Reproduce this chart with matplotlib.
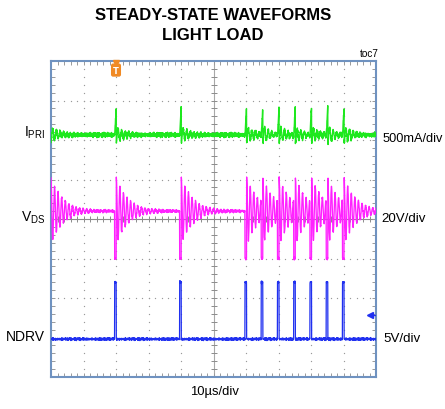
import numpy as np
import matplotlib
import matplotlib.pyplot as plt

# Use non-GUI backend for matplotlib
matplotlib.use("Agg")

# scope settings
us_per_div = 10.0
ipri_per_div = 500.0   # mA/div
vds_per_div = 20.0     # V/div
ndrv_per_div = 5.0     # V/div

# channel zero positions (divisions from centre)
ipri_pos = 2.13
vds_pos = -1.0
ndrv_pos = -3.04

# switching events (us)
pulse_start = [-0.5, 19.6, 39.6, 59.7, 64.7, 69.7, 74.7, 79.7, 84.7, 89.7]
pulse_width = 0.5

# levels
ipri_peak = 380.0      # mA
ipri_dip = 100.0       # mA
ipri_tau = 2.5         # us
vds_in = 24.0          # V
vds_ring = 17.0        # V
ring_period = 1.1      # us
ring_tau = 3.6         # us
ndrv_high = 7.2        # V
trigger_us = 20.0

# trace jitter, typed in (two coprime patterns)
jit_a = [0.4, -0.7, 0.2, 0.9, -0.3, -0.8, 0.6, 0.1, -0.5, 0.8, -0.2, -0.9, 0.5, 0.3, -0.6, 0.7, -0.1]
jit_b = [-0.3, 0.5, 0.1, -0.6, 0.8, -0.2, 0.3, -0.9, 0.6, 0.0, -0.4, 0.7, -0.7, 0.2, 0.9, -0.5,
         0.4, -0.1, -0.8, 0.6, 0.1, -0.3, 0.5]
ipri_noise = 40.0
vds_noise = 0.9
ndrv_noise = 0.22

W, H = 445, 410
fig = plt.figure(figsize=(W / 100, H / 100), dpi=100)
ax = fig.add_axes([51 / W, 1 - 378 / H, 325 / W, 316 / H])


def fx(x):
    return x / W


def fy(y):
    return 1 - y / H


# build traces
t = np.arange(0, 100.0001, 0.05)
starts = np.array(pulse_start)
k = np.searchsorted(starts, t, side="right") - 1
dt_on = t - starts[k]
on = dt_on < pulse_width
dt_off = np.clip(dt_on - pulse_width, 0, None)

n = len(t)
jit = (np.resize(jit_a, n) + np.resize(jit_b, n)) / 2
jit2 = np.roll(jit, 7)
jit3 = np.roll(jit[::-1], 3)

ring = np.cos(2 * np.pi * dt_off / ring_period)
ipri = np.where(on, ipri_peak * dt_on / pulse_width,
                -ipri_dip * np.exp(-dt_off / ipri_tau) * ring) + ipri_noise * jit
vds = np.where(on, 0.0, vds_in + vds_ring * np.exp(-dt_off / ring_tau) * ring) + vds_noise * jit2
ndrv = np.where(on, ndrv_high, 0.0) + ndrv_noise * jit3

ax.plot(t, ipri_pos + ipri / ipri_per_div, color="#1ee81e", lw=1.0, zorder=4)
ax.plot(t, vds_pos + vds / vds_per_div, color="#ff22ff", lw=0.95, zorder=4)
ax.plot(t, ndrv_pos + ndrv / ndrv_per_div, color="#2030f0", lw=0.9, zorder=4)

# graticule
ax.set_xlim(0, 100)
ax.set_ylim(-4, 4)
gx = np.arange(0, 100.01, 2)
gy = np.arange(-4, 4.01, 0.2)
for xv in np.arange(10, 100, 10):
    if xv == 50:
        continue
    ax.scatter(np.full(len(gy), xv), gy, s=0.9, color="#999999", lw=0, zorder=1)
for yv in range(-3, 4):
    if yv == 0:
        continue
    ax.scatter(gx, np.full(len(gx), yv), s=0.9, color="#999999", lw=0, zorder=1)
ax.axhline(0, color="#8c8c8c", lw=0.8, zorder=1)
ax.axvline(50, color="#a8a8a8", lw=0.8, zorder=1)
ax.plot(gx, np.zeros(len(gx)), ls="none", marker="|", ms=4, mew=0.7, color="#8c8c8c", zorder=1)
ax.plot(np.full(len(gy), 50), gy, ls="none", marker="_", ms=4, mew=0.7, color="#8c8c8c", zorder=1)

ax.set_xticks(np.arange(0, 101, 10))
ax.set_xticks(gx, minor=True)
ax.set_yticks(np.arange(-4, 5, 1))
ax.set_yticks(gy, minor=True)
ax.tick_params(which="both", direction="in", length=3, width=0.7, color="#9a9a9a",
               top=True, right=True, labelbottom=False, labelleft=False)
for s in ax.spines.values():
    s.set_color("#6f92c0")
    s.set_linewidth(1.5)

# trigger marker
ax.plot([trigger_us], [3.95], marker="v", ms=4, color="#f08a24", zorder=6, clip_on=False)
ax.text(trigger_us, 3.77, "T", ha="center", va="center", fontsize=6, color="white",
        fontweight="bold", zorder=6,
        bbox=dict(boxstyle="round,pad=0.25", fc="#f08a24", ec="none"))

# ground marker on the right
ax.plot([98.0, 99.6], [-2.43, -2.43], color="#2030f0", lw=1, zorder=6)
ax.plot([98.0], [-2.43], marker="<", ms=4, color="#2030f0", zorder=6)

# text
title_font = ["Liberation Sans Narrow", "Liberation Sans", "DejaVu Sans"]
body_font = ["Liberation Sans", "DejaVu Sans"]
fig.text(fx(213), fy(20), "STEADY-STATE WAVEFORMS", ha="center", va="baseline",
         fontsize=12, fontweight="bold", family=title_font)
fig.text(fx(213), fy(40), "LIGHT LOAD", ha="center", va="baseline",
         fontsize=12, fontweight="bold", family=title_font)
fig.text(fx(378.5), fy(57.3), "toc7", ha="right", va="baseline", fontsize=7.2, family=body_font)

plt.rcParams["mathtext.fontset"] = "custom"
plt.rcParams["mathtext.rm"] = "Liberation Sans"
fig.text(fx(45), fy(137), r"$\mathregular{I_{PRI}}$", ha="right", va="baseline",
         fontsize=10, family=body_font)
fig.text(fx(45), fy(221.7), r"$\mathregular{V_{DS}}$", ha="right", va="baseline",
         fontsize=10, family=body_font)
fig.text(fx(45), fy(341), "NDRV", ha="right", va="baseline", fontsize=10, family=body_font)

fig.text(fx(382.5), fy(141.7), "500mA/div", ha="left", va="baseline", fontsize=9.2, family=body_font)
fig.text(fx(381), fy(221.7), "20V/div", ha="left", va="baseline", fontsize=9.6, family=body_font)
fig.text(fx(383), fy(341.7), "5V/div", ha="left", va="baseline", fontsize=9.6, family=body_font)
fig.text(fx(214.5), fy(395.5), "10µs/div", ha="center", va="baseline", fontsize=9.4, family=body_font)

fig.savefig("out.png", dpi=100)
